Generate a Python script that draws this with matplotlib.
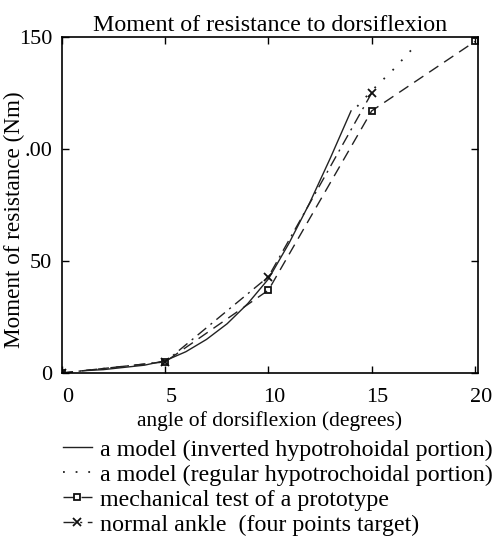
import matplotlib
matplotlib.use("Agg")
import matplotlib.pyplot as plt
import matplotlib.transforms as mtransforms
from matplotlib.legend_handler import HandlerLine2D

plt.rcParams['font.family'] = ['Liberation Serif', 'DejaVu Serif']

# Data
model_inv_x = [1, 2, 3, 4, 5, 6, 7, 8, 9, 10, 11, 12, 13, 14]
model_inv_y = [1, 1.5, 2.5, 3.5, 5.5, 9.5, 15, 22, 31, 42, 58, 76, 96, 117]
model_reg_x = [14.3, 15, 16, 17]
model_reg_y = [119, 126, 135, 145]
mech_x = [0, 5, 10, 15, 20]
mech_y = [0, 5, 37, 117, 148]
ankle_x = [0, 5, 10, 15]
ankle_y = [0, 5, 43, 125]

xticks = [0, 5, 10, 15, 20]
yticks = [0, 50, 100, 150]
ytick_labels = ['0', '50', '.00', '150']

W, H = 502, 541
fig = plt.figure(figsize=(W / 100, H / 100), dpi=100)
ax = fig.add_axes([62 / W, (H - 373) / H, (478 - 62) / W, (373 - 37) / H])

l1, = ax.plot(model_inv_x, model_inv_y, color='#222', lw=1.0, ls='-',
              label='a model (inverted hypotrohoidal portion)')
l2, = ax.plot(model_reg_x, model_reg_y, color='#222', lw=1.3, ls=(0, (1, 6)),
              label='a model (regular hypotrochoidal portion)')
l3, = ax.plot(mech_x, mech_y, color='#222', lw=1.0, ls=(0, (8, 5)),
              marker='s', ms=4, mfc='none', mec='#111', mew=1.3,
              label='mechanical test of a prototype')
l4, = ax.plot(ankle_x, ankle_y, color='#222', lw=1.0, ls=(0, (8, 4, 1.5, 4)),
              marker='x', ms=6, mec='#111', mew=1.3,
              label='normal ankle  (four points target)')

ax.set_xlim(0, 20.15)
ax.set_ylim(0, 150)
ax.set_xticks(xticks)
ax.set_yticks(yticks)
ax.set_yticklabels(ytick_labels)
ax.tick_params(direction='in', length=5, width=1, top=True, right=True,
               labelsize=16)
ax.tick_params(axis='x', pad=11)
ax.tick_params(axis='y', pad=7)
shift = mtransforms.ScaledTranslation(6 / 100, 0, fig.dpi_scale_trans)
for lab in ax.get_xticklabels():
    lab.set_transform(lab.get_transform() + shift)
for s in ax.spines.values():
    s.set_linewidth(1.2)

ax.set_title('Moment of resistance to dorsiflexion', fontsize=17.3, pad=4)
ax.set_xlabel('angle of dorsiflexion (degrees)', fontsize=15.5, labelpad=3)
ax.set_ylabel('Moment of resistance (Nm)', fontsize=16.7)
ax.yaxis.set_label_coords(-0.088, 0.455)


class RightMarker(HandlerLine2D):
    def get_xdata(self, legend, xdescent, ydescent, width, height, fontsize):
        xdata, xm = super().get_xdata(legend, xdescent, ydescent, width, height, fontsize)
        return xdata, [xdata[-1]]


leg = fig.legend(handles=[l1, l2, l3, l4], loc='upper left',
                 bbox_to_anchor=(63 / W, (H - 439) / H), frameon=False,
                 fontsize=17.3, handlelength=1.2, handletextpad=0.35,
                 labelspacing=0.13, borderpad=0, borderaxespad=0, numpoints=1,
                 handler_map={l3: RightMarker(), l4: RightMarker()})

fig.savefig('out.png', dpi=100)
